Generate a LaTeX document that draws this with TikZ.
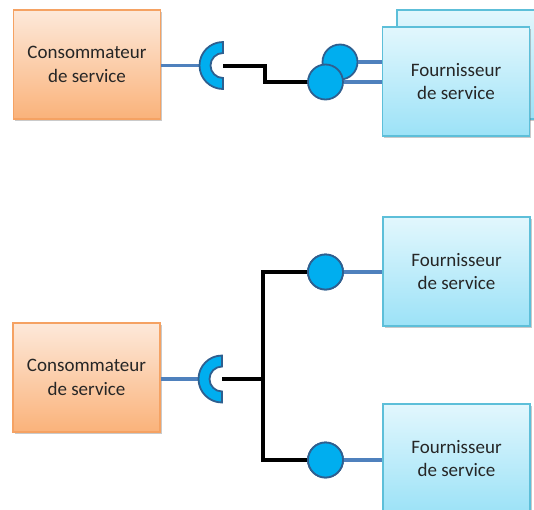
\documentclass[tikz,border=0pt]{standalone}
\usepackage{fontspec}
\setmainfont{Carlito}
\usetikzlibrary{shadows}
\definecolor{consTop}{HTML}{FDE9DA}
\definecolor{consBot}{HTML}{FAB27A}
\definecolor{consLine}{HTML}{F5A263}
\definecolor{provTop}{HTML}{E2F7FD}
\definecolor{provBot}{HTML}{9CE2F7}
\definecolor{provLine}{HTML}{5DBFD9}
\definecolor{ifFill}{HTML}{00AEEF}
\definecolor{ifLine}{HTML}{2F5F8F}
\definecolor{wire}{HTML}{4F81BD}
\definecolor{txt}{HTML}{262626}
\begin{document}
\begin{tikzpicture}[x=1pt,y=-1pt,
  box/.style={minimum width=147pt,minimum height=109pt,inner sep=0pt,align=center,
    font=\fontsize{19}{23.5}\selectfont, text=txt, line width=1.3pt,
    drop shadow={shadow xshift=1.5pt,shadow yshift=-1.5pt,opacity=0.35,fill=black!60}},
  cons/.style={box,draw=consLine,top color=consTop,bottom color=consBot},
  prov/.style={box,draw=provLine,top color=provTop,bottom color=provBot},
  iface/.style={circle,draw=ifLine,fill=ifFill,line width=1.8pt,minimum size=35pt,inner sep=0pt},
  cupstyle/.style={draw=ifLine,fill=ifFill,line width=1.8pt},
  bluewire/.style={draw=wire,line width=3.2pt},
  blackwire/.style={draw=black,line width=4pt}]
\useasboundingbox (0,0) rectangle (534,509);
\clip (0,0) rectangle (534,509);
% ---------- top part ----------
\node[cons] (cons1) at (87,64.5) {Consommateur\\de service};
\node[prov,minimum width=148pt] (pbk) at (471,64.5) {};
\coordinate (cup1) at (223,65.5);
\coordinate (cup1w) at (199.5,65.5);
\node[iface] (c1b) at (340,62) {};
\draw[bluewire] (c1b.east) -- (pbk.west |- c1b);
\node[prov] (pf) at (456,81.5) {Fournisseur\\de service};
\draw[bluewire] (cons1.east |- cup1) -- (cup1w);
\draw[blackwire] (cup1) -- ++(42,0) |- (325.5,82);
\node[iface] (c1f) at (325.5,82) {};
\draw[bluewire] (c1f.east) -- (pf.west |- c1f);
\draw[cupstyle] (cup1) ++(0,-23.5) arc[start angle=270,end angle=90,radius=23.5]
  -- ++(0,-11) arc[start angle=90,end angle=270,radius=12.5] -- cycle;
% ---------- bottom part ----------
\node[cons] (cons2) at (86.5,377.5) {Consommateur\\de service};
\node[prov] (p2a) at (456.5,271.5) {Fournisseur\\de service};
\node[prov] (p2b) at (456.5,458.5) {Fournisseur\\de service};
\coordinate (cup2) at (222,379);
\coordinate (cup2w) at (198.5,379);
\coordinate (j) at (263,379);
\node[iface] (c2a) at (325.5,272) {};
\node[iface] (c2b) at (325.5,460) {};
\draw[bluewire] (cons2.east |- cup2) -- (cup2w);
\draw[blackwire] (cup2) -- (j);
\draw[blackwire] (c2a.west) -| (j) |- (c2b.west);
\node[iface] at (c2a) {};
\node[iface] at (c2b) {};
\draw[bluewire] (c2a.east) -- (p2a.west |- c2a);
\draw[bluewire] (c2b.east) -- (p2b.west |- c2b);
\draw[cupstyle] (cup2) ++(0,-23.5) arc[start angle=270,end angle=90,radius=23.5]
  -- ++(0,-11) arc[start angle=90,end angle=270,radius=12.5] -- cycle;
\end{tikzpicture}
\end{document}
